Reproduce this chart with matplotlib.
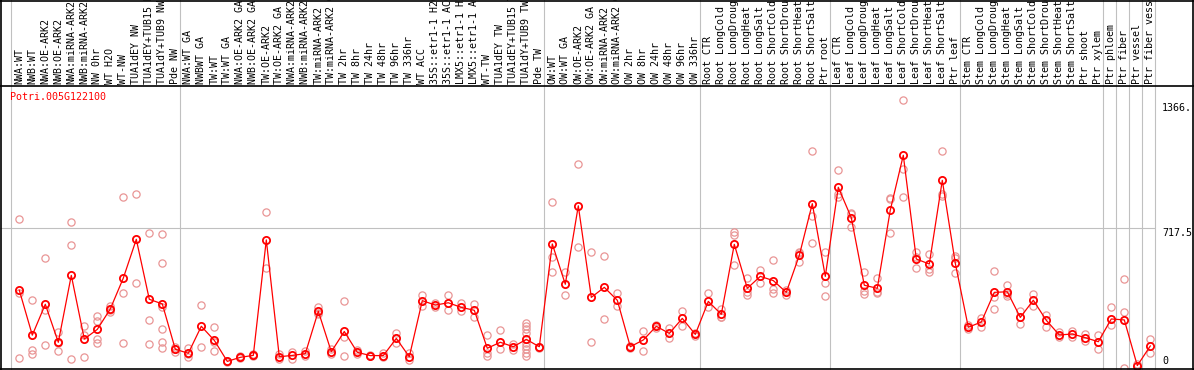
import matplotlib
matplotlib.use("Agg")
import matplotlib.pyplot as plt

gene = "Potri.005G122100"

categories = [
    "NWA:WT", "NWB:WT", "NWA:OE-ARK2", "NWB:OE-ARK2", "NWA:miRNA-ARK2",
    "NWB:miRNA-ARK2", "NW 0hr", "WT H2O", "WT-NW", "TUA1dEY NW",
    "TUA1dEY+TUB15 NW", "TUA1dY+TUB9 NW", "Pde NW",
    "NWA:WT GA", "NWBWT GA", "TW:WT", "TW:WT GA", "NWA:OE-ARK2 GA",
    "NWB:OE-ARK2 GA", "TW:OE-ARK2", "TW:OE-ARK2 GA", "NWA:miRNA-ARK2 GA",
    "NWB:miRNA-ARK2 GA", "TW:miRNA-ARK2", "TW:miRNA-ARK2 GA", "TW 2hr",
    "TW 8hr", "TW 24hr", "TW 48hr", "TW 96hr", "TW 336hr", "WT ACC",
    "35S::etr1-1 H2O", "35S::etr1-1 ACC", "LMX5::etr1-1 H2O",
    "LMX5::etr1-1 ACC", "WT-TW", "TUA1dEY TW", "TUA1dEY+TUB15 TW",
    "TUA1dY+TUB9 TW", "Pde TW",
    "OW:WT", "OW:WT GA", "OW:OE-ARK2", "OW:OE-ARK2 GA", "OW:miRNA-ARK2",
    "OW:miRNA-ARK2 GA", "OW 2hr", "OW 8hr", "OW 24hr", "OW 48hr", "OW 96hr",
    "OW 336hr",
    "Root CTR", "Root LongCold", "Root LongDrought", "Root LongHeat",
    "Root LongSalt", "Root ShortCold", "Root ShortDrought", "Root ShortHeat",
    "Root ShortSalt", "Ptr root",
    "Leaf CTR", "Leaf LongCold", "Leaf LongDrought", "Leaf LongHeat",
    "Leaf LongSalt", "Leaf ShortCold", "Leaf ShortDrought", "Leaf ShortHeat",
    "Leaf ShortSalt", "Ptr leaf",
    "Stem CTR", "Stem LongCold", "Stem LongDrought", "Stem LongHeat",
    "Stem LongSalt", "Stem ShortCold", "Stem ShortDrought", "Stem ShortHeat",
    "Stem ShortSalt", "Ptr shoot", "Ptr xylem",
    "Ptr phloem", "Ptr fiber", "Ptr vessel", "Ptr fiber vessel",
]

# taille de chaque groupe (séparés par un trait gris)
groupes = [13, 28, 12, 10, 10, 11, 1, 1, 1, 1]

moyennes = [
    393, 160, 320, 123, 470, 140, 190, 296, 456, 657, 346, 322, 87,
    66, 206, 133, 24, 45, 55, 654, 48, 55, 64, 284, 74, 179, 71, 54, 54,
    143, 48, 339, 316, 328, 304, 289, 92, 123, 100, 138, 100,
    633, 424, 831, 356, 408, 341, 100, 135, 206, 169, 247, 164,
    335, 268, 631, 403, 465, 443, 382, 574, 842, 465,
    927, 769, 419, 403, 809, 1093, 555, 529, 963, 533,
    201, 228, 382, 385, 252, 341, 237, 161, 166, 147, 126,
    244, 239, 2, 104,
]

replicats = [
    [761, 380, 40], [342, 83, 61], [559, 290, 107], [175, 118, 76],
    [745, 626, 35], [206, 161, 45], [259, 235, 140, 118], [313, 290, 280],
    [875, 377, 118], [890, 429], [688, 239, 112],
    [683, 533, 304, 190, 123, 92], [100, 75, 86],
    [92, 45, 60], [316, 97], [201, 122, 76], [20, 28], [40, 50], [50, 60],
    [797, 508], [62, 34], [73, 38], [78, 50], [308, 273, 270], [90, 60],
    [335, 149, 54], [84, 60], [50, 58], [66, 45], [169, 121], [66, 30],
    [368, 311], [325, 305], [368, 290], [325, 285], [320, 256],
    [159, 66, 50], [187, 87], [115, 85],
    [225, 207, 190, 173, 121, 104, 87, 69, 52], [100, 95],
    [849, 567, 489], [486, 367], [1046, 616], [590, 123], [569, 242],
    [377, 310], [95, 105], [182, 76], [215, 195], [195, 145], [285, 209],
    [170, 158],
    [377, 304], [297, 252, 255], [693, 677, 522], [455, 368, 385],
    [498, 429], [550, 399, 377], [394, 370], [593, 585, 541],
    [1115, 778, 636], [593, 432, 361],
    [1015, 890, 875], [795, 790, 719], [486, 389, 373], [455, 377, 385],
    [864, 870, 688], [1380, 1020, 875], [593, 507, 565], [581, 501, 486],
    [1115, 890, 880], [571, 481, 560],
    [190, 212], [247, 202], [491, 360, 297], [419, 365, 375], [285, 216],
    [373, 313], [265, 204], [175, 150], [180, 152], [165, 130], [160, 87],
    [304, 213], [450, 280, -10], [10], [140, 66],
]

graduations = [1366, 717.5, 0]
textes_graduations = ["1366.", "717.5", "0"]

# mise en page en pixels de l'image d'origine
LARG, HAUT = 1194, 370
X0, PAS_X = 19.3, 13.0      # centre de la 1re catégorie, pas entre catégories
Y0, ECHELLE = 366.0, 5.187  # pixel du zéro, unités par pixel


def px_x(p):
    return (p - X0) / PAS_X


def px_y(p):
    return (Y0 - p) * ECHELLE


fig = plt.figure(figsize=(LARG / 100, HAUT / 100), dpi=100)
ax = fig.add_axes([0, 0, 1, 1])
ax.set_xlim(px_x(0), px_x(LARG))
ax.set_ylim(px_y(HAUT), px_y(0))
ax.axis("off")

police = "DejaVu Sans Mono"
gris = "#c0c0c0"

# séparateurs de groupes
bornes = [0]
for g in groupes:
    bornes.append(bornes[-1] + g)
decal = 8.6 / PAS_X
for b in bornes:
    ax.axvline(b - decal, color=gris, lw=0.8, zorder=1)

ax.hlines(717.5, px_x(0), bornes[-1] - decal, color=gris, lw=0.8, zorder=1)

# cadre
noir = dict(color="black", lw=1.2, zorder=5)
ax.axhline(px_y(85.7), **noir)
ax.axhline(px_y(368.7), **noir)
ax.axhline(px_y(0.5), **noir)
ax.axvline(px_x(0.6), **noir)
ax.axvline(px_x(1193.2), **noir)

# étiquettes verticales
for i, cat in enumerate(categories):
    ax.text(i, px_y(84), cat, rotation=90, ha="center", va="bottom",
            family=police, fontsize=7.2, color="black", clip_on=True)

# réplicats
for i, reps in enumerate(replicats):
    ax.plot([i] * len(reps), reps, linestyle="none", marker="o",
            markersize=5.2, markerfacecolor="none", markeredgecolor="#e99595",
            markeredgewidth=0.9, zorder=2)

# moyennes
x = list(range(len(moyennes)))
ax.plot(x, moyennes, color="red", lw=0.9, marker="o", markersize=5.2,
        markerfacecolor="none", markeredgecolor="red", markeredgewidth=1.3,
        zorder=3)

ax.text(px_x(10), px_y(92), gene, ha="left", va="top", family=police,
        fontsize=7.2, color="red")

for val, txt in zip(graduations, textes_graduations):
    va = "bottom" if val == 0 else "top"
    ax.text(px_x(1162), val, txt, ha="left", va=va, family=police,
            fontsize=7.2, color="black")

fig.savefig("out.png", dpi=100)
